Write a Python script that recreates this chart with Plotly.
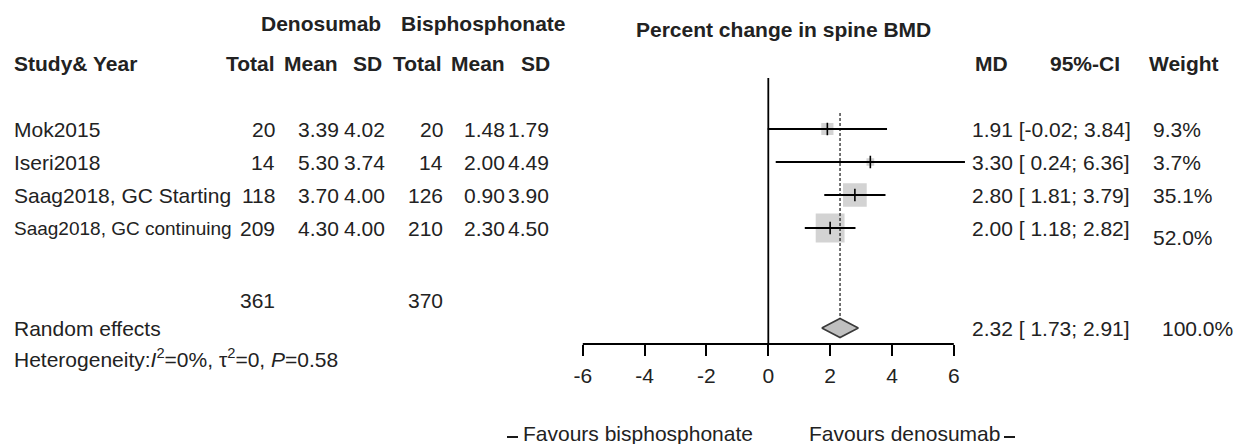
import math
import plotly.graph_objects as go

# ---------------- data ----------------
studies = ["Mok2015", "Iseri2018", "Saag2018, GC Starting", "Saag2018, GC continuing"]
den_total = [20, 14, 118, 209]
den_mean = [3.39, 5.30, 3.70, 4.30]
den_sd = [4.02, 3.74, 4.00, 4.00]
bis_total = [20, 14, 126, 210]
bis_mean = [1.48, 2.00, 0.90, 2.30]
bis_sd = [1.79, 4.49, 3.90, 4.50]
md = [1.91, 3.30, 2.80, 2.00]
ci_lo = [-0.02, 0.24, 1.81, 1.18]
ci_hi = [3.84, 6.36, 3.79, 2.82]
weight = [9.3, 3.7, 35.1, 52.0]
den_sum = 361
bis_sum = 370
pooled_md = 2.32
pooled_lo = 1.73
pooled_hi = 2.91
pooled_weight = 100.0
x_ticks = [-6, -4, -2, 0, 2, 4, 6]

# ---------------- layout helpers ----------------
W, H = 1238, 444
ROW0_PX, ROW_PX = 129, 33
FONT = "Liberation Sans, Arial, Helvetica, sans-serif"
TXT = "#222222"
FS = 21


def row(py):
    return (py - ROW0_PX) / ROW_PX


def px(x):
    return x / W


# x-axis pixel mapping (0 at 768.3 px, 30.92 px per unit)
X0_PX, UNIT_PX = 768.3, 30.92
XR = [-7, 7]
x_domain = [px(X0_PX + XR[0] * UNIT_PX), px(X0_PX + XR[1] * UNIT_PX)]
AXIS_PX = 344

fig = go.Figure()
rows = list(range(len(studies)))

# squares (size ~ sqrt(weight))
fig.add_trace(go.Scatter(
    x=md, y=rows, mode="markers",
    marker=dict(symbol="square", size=[4.0 * math.sqrt(w) for w in weight],
                color="#c0c0c0", line=dict(width=0)),
    hoverinfo="skip", showlegend=False))

# CI lines
cx, cy = [], []
for lo, hi, r in zip(ci_lo, ci_hi, rows):
    cx += [lo, hi, None]
    cy += [r, r, None]
fig.add_trace(go.Scatter(x=cx, y=cy, mode="lines",
                         line=dict(color="black", width=1.8),
                         hoverinfo="skip", showlegend=False))

# point estimate ticks
fig.add_trace(go.Scatter(
    x=md, y=rows, mode="markers",
    marker=dict(symbol="line-ns", size=9, line=dict(width=1.6, color="black")),
    hoverinfo="skip", showlegend=False))

# pooled diamond
D_ROW = row(328)
D_H = 9.5 / ROW_PX
fig.add_trace(go.Scatter(
    x=[pooled_lo, pooled_md, pooled_hi, pooled_md, pooled_lo],
    y=[D_ROW, D_ROW - D_H, D_ROW, D_ROW + D_H, D_ROW],
    mode="lines", fill="toself", fillcolor="#c0c0c0",
    line=dict(color="#3a3a3a", width=1.6),
    hoverinfo="skip", showlegend=False))

shapes = [
    # line of no effect
    dict(type="line", xref="x", yref="y", x0=0, x1=0, y0=row(78), y1=row(AXIS_PX),
         line=dict(color="black", width=1.8)),
    # pooled estimate dotted line
    dict(type="line", xref="x", yref="y", x0=pooled_md, x1=pooled_md,
         y0=row(113), y1=D_ROW - D_H, line=dict(color="black", width=1.1, dash="3px,2px")),
    # axis baseline
    dict(type="line", xref="x", yref="y", x0=x_ticks[0], x1=x_ticks[-1],
         y0=row(AXIS_PX), y1=row(AXIS_PX), line=dict(color="black", width=1.9)),
    # small dashes of favour labels
    dict(type="line", xref="paper", yref="y", x0=px(507), x1=px(518),
         y0=row(437), y1=row(437), line=dict(color="black", width=1.8)),
    dict(type="line", xref="paper", yref="y", x0=px(1004), x1=px(1015),
         y0=row(437), y1=row(437), line=dict(color="black", width=1.8)),
]

ann = []


def add(x_px, y_row, text, anchor="left", size=FS, bold=False):
    if bold:
        text = "<b>" + text + "</b>"
    ann.append(dict(x=px(x_px), y=y_row, xref="paper", yref="y", text=text,
                    showarrow=False, xanchor=anchor, yanchor="middle",
                    font=dict(family=FONT, size=size, color=TXT)))


# headers
add(321, row(23), "Denosumab", "center", bold=True)
add(483, row(23), "Bisphosphonate", "center", bold=True)
add(634, row(29.5), "Percent change in spine BMD", "left", bold=True)
HR = row(63.5)
add(12, HR, "Study& Year", "left", bold=True)
HEAD_COLS = [277, 340, 384, 444, 507, 552]
DATA_COLS = [277, 341, 387, 445, 507, 551]
for cpx, lab in zip(HEAD_COLS, ["Total", "Mean", "SD", "Total", "Mean", "SD"]):
    add(cpx, HR, lab, "right", bold=True)
add(973, HR, "MD", "left", bold=True)
add(1122, HR, "95%-CI", "right", bold=True)
add(1147, HR, "Weight", "left", bold=True)

# study rows
for i, r in enumerate(rows):
    size = 19 if i == len(studies) - 1 else FS
    add(12, r, studies[i], "left", size=size)
    vals = [f"{den_total[i]}", f"{den_mean[i]:.2f}", f"{den_sd[i]:.2f}",
            f"{bis_total[i]}", f"{bis_mean[i]:.2f}", f"{bis_sd[i]:.2f}"]
    for cpx, v in zip(DATA_COLS, vals):
        add(cpx, r, v, "right")
    lo_s = f"{ci_lo[i]:.2f}" if ci_lo[i] < 0 else " " + f"{ci_lo[i]:.2f}"
    add(970, r, f"{md[i]:.2f} [{lo_s}; {ci_hi[i]:.2f}]", "left")
    wy = r + (0.3 if i == len(studies) - 1 else 0)
    add(1151, wy, f"{weight[i]:.1f}%", "left")

# totals / pooled
add(DATA_COLS[0], row(300), f"{den_sum}", "right")
add(DATA_COLS[3], row(300), f"{bis_sum}", "right")
add(12, D_ROW, "Random effects", "left")
add(970, D_ROW, f"{pooled_md:.2f} [ {pooled_lo:.2f}; {pooled_hi:.2f}]", "left")
add(1160, D_ROW, f"{pooled_weight:.1f}%", "left")
add(12, row(358), "Heterogeneity:<i>I</i><sup>2</sup>=0%, τ<sup>2</sup>=0, <i>P</i>=0.58", "left")

# favour labels
add(755, row(433), "Favours bisphosphonate", "right")
add(807, row(433), "Favours denosumab", "left")

fig.update_layout(
    width=W, height=H, autosize=False,
    margin=dict(l=0, r=0, t=0, b=0, pad=0),
    paper_bgcolor="white", plot_bgcolor="white",
    shapes=shapes, annotations=ann, showlegend=False,
    xaxis=dict(domain=x_domain, range=XR, anchor="free", position=1 - AXIS_PX / H,
               tickmode="array", tickvals=x_ticks, ticktext=[str(t) for t in x_ticks],
               ticks="outside", ticklen=11, tickwidth=1.7, tickcolor="black",
               showline=False, showgrid=False, zeroline=False,
               ticklabelstandoff=2,
               tickfont=dict(family=FONT, size=FS, color=TXT), fixedrange=True),
    yaxis=dict(domain=[0, 1], range=[row(H), row(0)], visible=False,
               showgrid=False, zeroline=False, fixedrange=True),
)

fig.write_html(
    "out.html",
    config={"displayModeBar": False},
    post_script="document.body.style.margin='0';document.body.style.padding='0';"
                "document.body.style.overflow='hidden';",
)
